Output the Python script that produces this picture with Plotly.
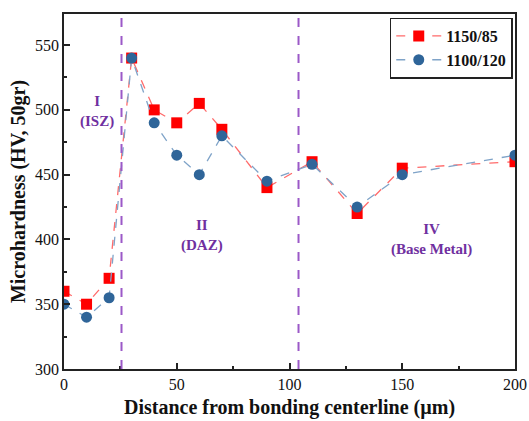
import plotly.graph_objects as go

# Distance from bonding centerline (µm)
distance = [0, 10, 20, 30, 40, 50, 60, 70, 90, 110, 130, 150, 200]
# Microhardness (HV, 50 gr) for the two bonding conditions
hv_1150_85 = [360, 350, 370, 540, 500, 490, 505, 485, 440, 460, 420, 455, 460]
hv_1100_120 = [350, 340, 355, 540, 490, 465, 450, 480, 445, 458, 425, 450, 465]

# Zone boundaries and labels
zone_bounds = [25.5, 104]
zone_labels = ["I<br>(ISZ)", "II<br>(DAZ)", "IV<br>(Base Metal)"]
zone_label_x = [14.5, 61, 163]
zone_label_y = [499, 403, 400]

serif = "Liberation Serif"
purple = "#7030a0"

fig = go.Figure()
fig.add_trace(go.Scatter(
    x=distance, y=hv_1150_85, name="<b>1150/85</b>", mode="lines+markers",
    line=dict(color="#ff6b6b", width=1.3, dash="dash"),
    marker=dict(symbol="square", size=11, color="#ff0000"),
))
fig.add_trace(go.Scatter(
    x=distance, y=hv_1100_120, name="<b>1100/120</b>", mode="lines+markers",
    line=dict(color="#7fa3c8", width=1.3, dash="dash"),
    marker=dict(symbol="circle", size=11, color="#2f6599"),
))

for xb in zone_bounds:
    fig.add_shape(type="line", x0=xb, x1=xb, y0=0, y1=1, xref="x", yref="paper",
                  line=dict(color="#9b59c8", width=2, dash="dash"))

for txt, xa, ya in zip(zone_labels, zone_label_x, zone_label_y):
    fig.add_annotation(x=xa, y=ya, text=f"<b>{txt}</b>", showarrow=False,
                       font=dict(family=serif, size=15, color=purple))

axis_common = dict(
    showgrid=False, zeroline=False, showline=True, linecolor="#222", linewidth=1.5,
    mirror=True, ticks="inside", ticklen=6, tickwidth=1.5, tickcolor="#222",
    tickfont=dict(family=serif, size=16, color="#111"),
    minor=dict(ticks="inside", ticklen=3, tickwidth=1.5, tickcolor="#222"),
    automargin=False, ticklabeloverflow="allow",
    tickprefix="<b>", ticksuffix="</b>",
)

fig.update_xaxes(
    range=[0, 200], tickvals=[0, 50, 100, 150, 200],
    minor_tickvals=[25, 75, 125, 175],
    title=dict(text="<b>Distance from bonding centerline (µm)</b>",
               font=dict(family=serif, size=20, color="#111"), standoff=8),
    **axis_common,
)
fig.update_yaxes(
    range=[300, 574], tickvals=[300, 350, 400, 450, 500, 550],
    minor_tickvals=[325, 375, 425, 475, 525],
    title=dict(text="<b>Microhardness (HV, 50gr)</b>",
               font=dict(family=serif, size=20, color="#111"), standoff=4),
    **axis_common,
)

fig.update_layout(
    width=529, height=421,
    margin=dict(l=64, r=14, t=14, b=52),
    plot_bgcolor="white", paper_bgcolor="white",
    showlegend=True,
    legend=dict(x=0.995, y=0.99, xanchor="right", yanchor="top",
                bordercolor="#222", borderwidth=1.5, bgcolor="white",
                font=dict(family=serif, size=16, color="#111"),
                tracegroupgap=0, itemwidth=45),
)

fig.write_html("out.html")
